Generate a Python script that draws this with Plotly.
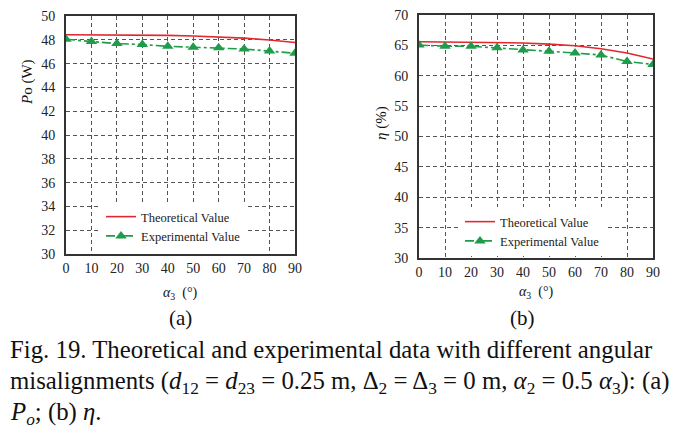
import plotly.graph_objects as go

angles = [0, 10, 20, 30, 40, 50, 60, 70, 80, 90]
po_theory = [48.43, 48.43, 48.42, 48.4, 48.37, 48.32, 48.24, 48.14, 47.98, 47.77]
po_exp = [48.04, 47.85, 47.68, 47.6, 47.45, 47.38, 47.33, 47.22, 47.05, 46.87]
eta_theory = [65.6, 65.58, 65.55, 65.5, 65.4, 65.2, 64.95, 64.45, 63.75, 62.75]
eta_exp = [65.05, 64.85, 64.85, 64.6, 64.25, 64.05, 63.75, 63.4, 62.35, 61.85]
x_ticks = [0, 10, 20, 30, 40, 50, 60, 70, 80, 90]
po_ticks = [30, 32, 34, 36, 38, 40, 42, 44, 46, 48, 50]
eta_ticks = [30, 35, 40, 45, 50, 55, 60, 65, 70]

RED = "#e0282e"
GREEN = "#1f9c4a"
FONT = "Liberation Serif"
W, H = 687, 429

fig = go.Figure()
fig.add_trace(go.Scatter(x=angles, y=po_theory, mode="lines", name="Theoretical Value",
                         line=dict(color=RED, width=1.6), xaxis="x", yaxis="y", showlegend=True))
fig.add_trace(go.Scatter(x=angles, y=po_exp, mode="lines+markers", name="Experimental Value",
                         line=dict(color=GREEN, width=1.6, dash="dashdot"),
                         marker=dict(symbol="triangle-up", size=10, color=GREEN),
                         xaxis="x", yaxis="y", showlegend=True))
fig.add_trace(go.Scatter(x=angles, y=eta_theory, mode="lines", name="Theoretical Value",
                         line=dict(color=RED, width=1.6), xaxis="x2", yaxis="y2", showlegend=True,
                         legend="legend2"))
fig.add_trace(go.Scatter(x=angles, y=eta_exp, mode="lines+markers", name="Experimental Value",
                         line=dict(color=GREEN, width=1.6, dash="dashdot"),
                         marker=dict(symbol="triangle-up", size=10, color=GREEN),
                         xaxis="x2", yaxis="y2", showlegend=True, legend="legend2"))

def px_x(p):
    return p / W

def px_y(p):
    return 1 - p / H

grid = dict(showgrid=True, gridcolor="#555555", griddash="4px,3px", gridwidth=1,
            showline=True, linecolor="#333333", linewidth=2, mirror=True,
            ticks="", zeroline=False, automargin=False,
            tickfont=dict(family=FONT, size=14, color="#222222"))

fig.update_layout(
    width=W, height=H,
    margin=dict(l=0, r=0, t=0, b=0),
    paper_bgcolor="white", plot_bgcolor="white",
    hovermode=False,
    font=dict(family=FONT, color="#222222"),
    xaxis=dict(domain=[px_x(66), px_x(295)], range=[0, 90], tickvals=x_ticks, anchor="y", **grid),
    yaxis=dict(domain=[px_y(254), px_y(16)], range=[30, 50], tickvals=po_ticks, anchor="x",
               ticklabelstandoff=6, **grid),
    xaxis2=dict(domain=[px_x(419), px_x(653)], range=[0, 90], tickvals=x_ticks, anchor="y2", **grid),
    yaxis2=dict(domain=[px_y(258), px_y(15)], range=[30, 70], tickvals=eta_ticks, anchor="x2",
                ticklabelstandoff=6, **grid),
    legend=dict(x=px_x(101), y=px_y(202), xanchor="left", yanchor="top",
                bgcolor="white", font=dict(family=FONT, size=12.5, color="#222222"),
                tracegroupgap=0, itemwidth=30, borderwidth=0),
    legend2=dict(x=px_x(460), y=px_y(207), xanchor="left", yanchor="top",
                 bgcolor="white", font=dict(family=FONT, size=12.5, color="#222222"),
                 tracegroupgap=0, itemwidth=30, borderwidth=0),
)

anns = [
    dict(x=px_x(28), y=px_y(82), text="<i>P</i>o (W)", textangle=-90, font=dict(size=15)),
    dict(x=px_x(382), y=px_y(123), text="<i>η</i> (%)", textangle=-90, font=dict(size=15)),
    dict(x=px_x(180), y=px_y(293), text="<i>α</i><sub>3</sub>  (°)", font=dict(size=14)),
    dict(x=px_x(536), y=px_y(292), text="<i>α</i><sub>3</sub>  (°)", font=dict(size=14)),
    dict(x=px_x(180), y=px_y(318), text="(a)", font=dict(size=21)),
    dict(x=px_x(522), y=px_y(318), text="(b)", font=dict(size=21)),
]
for a in anns:
    a.update(xref="paper", yref="paper", showarrow=False, xanchor="center", yanchor="middle")
    a["font"].update(family=FONT, color="#111111")
    fig.add_annotation(**a)

captions = [
    (349, "Fig. 19. Theoretical and experimental data with different angular"),
    (382, "misalignments (<i>d</i><sub>12</sub> = <i>d</i><sub>23</sub> = 0.25 m, Δ<sub>2</sub> = Δ<sub>3</sub> = 0 m, <i>α</i><sub>2</sub> = 0.5 <i>α</i><sub>3</sub>): (a)"),
    (413, "<i>P<sub>o</sub></i>; (b) <i>η</i>."),
]
for yy, t in captions:
    fig.add_annotation(x=px_x(8), y=px_y(yy), xref="paper", yref="paper", text=t,
                       showarrow=False, xanchor="left", yanchor="middle",
                       font=dict(family=FONT, size=24.8, color="#111111"))

fig.write_html("out.html", config={"displayModeBar": False},
               post_script="document.body.style.margin='0';document.body.style.overflow='hidden';")
